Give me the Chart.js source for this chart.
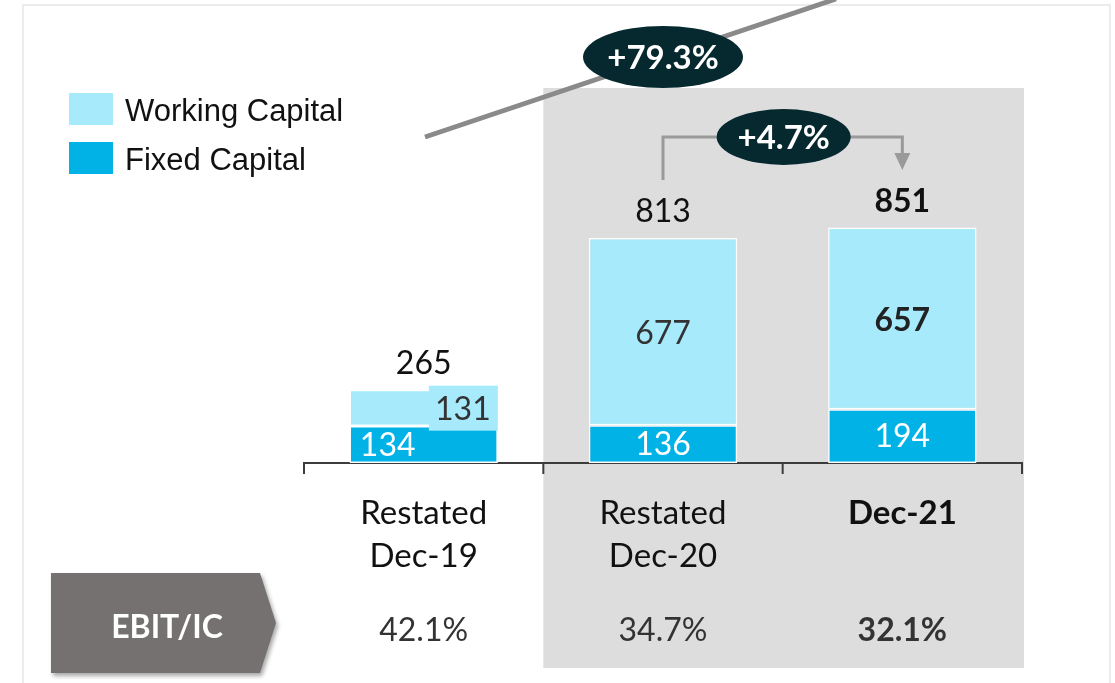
<!DOCTYPE html>
<html>
<head>
<meta charset="utf-8">
<script src="https://cdn.jsdelivr.net/npm/chart.js@4.4.1/dist/chart.umd.min.js"></script>
<style>
  html, body { margin: 0; padding: 0; background: #ffffff; }
  #wrap { width: 1115px; height: 683px; position: relative; }
</style>
</head>
<body>
<div id="wrap"><canvas id="capChart" width="1115" height="683"></canvas></div>
<script>
const categories = [["Restated", "Dec-19"], ["Restated", "Dec-20"], ["Dec-21"]];
const fixedCapital = [134, 136, 194];
const workingCapital = [131, 677, 657];
const totals = [265, 813, 851];
const ebitIc = ["42.1%", "34.7%", "32.1%"];
const boldColumn = [false, false, true];
const growthLabels = ["+79.3%", "+4.7%"];
const seriesNames = ["Working Capital", "Fixed Capital"];

const FIXED_COLOR = "#00b2e6";
const WORKING_COLOR = "#a6eafc";
const TEXT_FONT = "Lato, 'Open Sans', sans-serif";
const LEGEND_FONT = "'Liberation Sans', Arial, sans-serif";

function font(size, bold) {
  return `${bold ? "bold " : ""}${size}px ${TEXT_FONT}`;
}

function drawEllipseLabel(ctx, cx, cy, rx, ry, text) {
  ctx.save();
  ctx.beginPath();
  ctx.ellipse(cx, cy, rx, ry, 0, 0, Math.PI * 2);
  ctx.fillStyle = "#06292f";
  ctx.fill();
  ctx.fillStyle = "#ffffff";
  ctx.font = font(33, true);
  ctx.textAlign = "center";
  ctx.textBaseline = "middle";
  ctx.fillText(text, cx, cy + 1);
  ctx.restore();
}

const backgroundPlugin = {
  id: "backgroundPlugin",
  beforeDatasetsDraw(chart) {
    const { ctx, chartArea } = chart;
    const x = chart.scales.x;
    const step = x.getPixelForValue(1) - x.getPixelForValue(0);

    ctx.save();
    // outer frame
    ctx.strokeStyle = "#ececec";
    ctx.lineWidth = 2;
    ctx.strokeRect(23, 5, 1087, 700);

    // shaded panel behind last two columns
    const panelLeft = x.getPixelForValue(1) - step / 2;
    const panelRight = x.getPixelForValue(2) + step / 2 + 2;
    ctx.fillStyle = "#dddddd";
    ctx.fillRect(panelLeft, 88, panelRight - panelLeft, 580);

    // axis with tick marks
    ctx.strokeStyle = "#3c3c3c";
    ctx.lineWidth = 2;
    ctx.beginPath();
    ctx.moveTo(chartArea.left, chartArea.bottom + 11);
    ctx.lineTo(chartArea.left, chartArea.bottom);
    ctx.lineTo(chartArea.right, chartArea.bottom);
    ctx.lineTo(chartArea.right, chartArea.bottom + 11);
    for (let i = 1; i < categories.length; i++) {
      const tx = chartArea.left + step * i;
      ctx.moveTo(tx, chartArea.bottom);
      ctx.lineTo(tx, chartArea.bottom + 11);
    }
    ctx.stroke();
    ctx.restore();
  }
};

const annotationPlugin = {
  id: "annotationPlugin",
  afterDatasetsDraw(chart) {
    const { ctx, chartArea } = chart;
    const x = chart.scales.x;
    const fixedMeta = chart.getDatasetMeta(0);
    const workMeta = chart.getDatasetMeta(1);

    ctx.save();
    ctx.textAlign = "center";
    ctx.textBaseline = "middle";

    categories.forEach((lines, i) => {
      const cx = x.getPixelForValue(i);
      const fixedBar = fixedMeta.data[i];
      const workBar = workMeta.data[i];
      const bold = boldColumn[i];

      // total above bar
      ctx.fillStyle = "#111111";
      ctx.font = font(32, bold);
      ctx.fillText(String(totals[i]), cx, workBar.y - 26);

      if (i === 0) {
        // small first bar: fixed label on left, working label in a tab on the right
        ctx.fillStyle = "#ffffff";
        ctx.font = font(32, false);
        ctx.fillText(String(fixedCapital[i]), cx - 36, (fixedBar.y + fixedBar.base) / 2 + 1);
        const right = cx + workBar.width / 2;
        ctx.fillStyle = WORKING_COLOR;
        ctx.fillRect(right - 69, workBar.y - 4, 69, 45);
        ctx.fillStyle = "#333333";
        ctx.fillText(String(workingCapital[i]), right - 35, workBar.y + 20);
      } else {
        ctx.fillStyle = "#ffffff";
        ctx.font = font(32, false);
        ctx.fillText(String(fixedCapital[i]), cx, (fixedBar.y + fixedBar.base) / 2 + 1);
        ctx.fillStyle = bold ? "#222222" : "#333333";
        ctx.font = font(32, bold);
        ctx.fillText(String(workingCapital[i]), cx, (workBar.y + workBar.base) / 2 + 2);
      }

      // category labels
      ctx.fillStyle = "#111111";
      ctx.font = font(33, bold);
      lines.forEach((line, j) => {
        ctx.fillText(line, cx, chartArea.bottom + 50 + j * 43);
      });

      // EBIT/IC row
      ctx.fillStyle = "#333333";
      ctx.font = font(32, bold);
      ctx.fillText(ebitIc[i], cx, 631);
    });

    // EBIT/IC arrow box
    ctx.save();
    ctx.shadowColor = "rgba(0,0,0,0.35)";
    ctx.shadowBlur = 4;
    ctx.shadowOffsetX = 2;
    ctx.shadowOffsetY = 3;
    ctx.fillStyle = "#767171";
    ctx.beginPath();
    ctx.moveTo(51, 573);
    ctx.lineTo(260, 573);
    ctx.lineTo(276, 623);
    ctx.lineTo(260, 673);
    ctx.lineTo(51, 673);
    ctx.closePath();
    ctx.fill();
    ctx.restore();
    ctx.fillStyle = "#ffffff";
    ctx.font = font(32, true);
    ctx.fillText("EBIT/IC", 167, 628);

    // long growth line
    ctx.strokeStyle = "#8a8a8a";
    ctx.lineWidth = 5;
    ctx.beginPath();
    ctx.moveTo(425, 137);
    ctx.lineTo(836, -1);
    ctx.stroke();
    drawEllipseLabel(ctx, x.getPixelForValue(1), 57, 80, 31, growthLabels[0]);

    // year-on-year bracket
    const b1 = x.getPixelForValue(1);
    const b2 = x.getPixelForValue(2);
    ctx.strokeStyle = "#9a9a9a";
    ctx.lineWidth = 3;
    ctx.beginPath();
    ctx.moveTo(b1, 180);
    ctx.lineTo(b1, 137);
    ctx.lineTo(b2, 137);
    ctx.lineTo(b2, 155);
    ctx.stroke();
    ctx.fillStyle = "#9a9a9a";
    ctx.beginPath();
    ctx.moveTo(b2 - 8, 153);
    ctx.lineTo(b2 + 8, 153);
    ctx.lineTo(b2, 170);
    ctx.closePath();
    ctx.fill();
    drawEllipseLabel(ctx, (b1 + b2) / 2 + 1, 137, 67, 28, growthLabels[1]);

    // legend
    const legendColors = [WORKING_COLOR, FIXED_COLOR];
    ctx.textAlign = "left";
    ctx.font = `31px ${LEGEND_FONT}`;
    seriesNames.forEach((name, k) => {
      const top = 93 + k * 49;
      ctx.fillStyle = legendColors[k];
      ctx.fillRect(69, top, 44, 32);
      ctx.fillStyle = "#111111";
      ctx.fillText(name, 125, top + 19);
    });

    ctx.restore();
  }
};

new Chart(document.getElementById("capChart"), {
  type: "bar",
  data: {
    labels: categories.map((c) => c.join(" ")),
    datasets: [
      {
        label: seriesNames[1],
        data: fixedCapital,
        backgroundColor: FIXED_COLOR,
        borderColor: "#ffffff",
        borderWidth: 1.5,
        borderSkipped: false
      },
      {
        label: seriesNames[0],
        data: workingCapital,
        backgroundColor: WORKING_COLOR,
        borderColor: "#ffffff",
        borderWidth: 1.5,
        borderSkipped: false
      }
    ]
  },
  options: {
    responsive: false,
    animation: false,
    layout: { padding: { left: 304, right: 93, top: 186.25, bottom: 220 } },
    datasets: { bar: { barPercentage: 0.62, categoryPercentage: 1 } },
    plugins: { legend: { display: false }, tooltip: { enabled: false } },
    scales: {
      x: { stacked: true, display: false },
      y: { stacked: true, display: false, min: 0, max: 1000 }
    }
  },
  plugins: [backgroundPlugin, annotationPlugin]
});
</script>
</body>
</html>
